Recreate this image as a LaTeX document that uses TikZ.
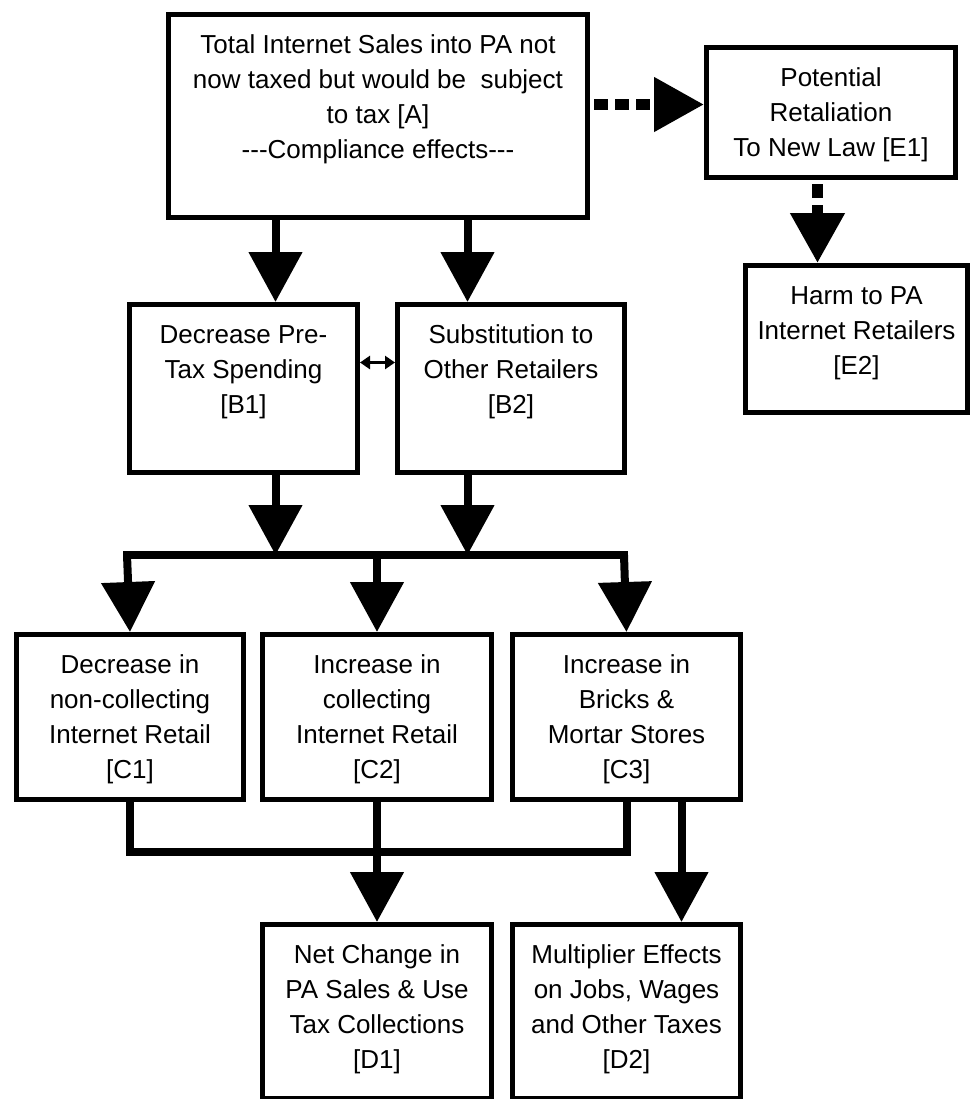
\documentclass[tikz,border=0pt]{standalone}
\usepackage{fontspec}
\setmainfont{Liberation Sans}
\usetikzlibrary{arrows.meta}
\newcommand{\boxtext}[3]{\parbox[c][#2][t]{#1}{\centering\rule{0pt}{19.5pt}#3}}
\begin{document}
\begin{tikzpicture}[x=0.5pt, y=-0.5pt,
  box/.style={draw, line width=2.5pt, inner sep=0pt, anchor=north west, font=\fontsize{13}{17.5}\selectfont},
  bigarrow/.style={line width=4pt, -{Triangle[length=25pt,width=26pt]}},
  feed/.style={line width=4pt, line cap=rect},
  dotarrow/.style={line width=5.5pt, dash pattern=on 7pt off 3.5pt, -{Triangle[length=25pt,width=26pt]}},
  twoway/.style={line width=1.6pt, {Triangle[length=5pt,width=6.5pt]}-{Triangle[length=5pt,width=6.5pt]}}]
\useasboundingbox (0,0) rectangle (970,1099);
\node[box] (a) at (166,12) {\boxtext{209.5pt}{101.5pt}{Total Internet Sales into PA not\\now taxed but would be\ \ subject\\to tax [A]\\-{}-{}-Compliance effects-{}-{}-}};
\node[box] (e1) at (704,45) {\boxtext{124.5pt}{65pt}{Potential\\Retaliation\\To New Law [E1]}};
\node[box] (e2) at (743,263) {\boxtext{111pt}{73.5pt}{Harm to PA\\Internet Retailers\\{}[E2]}};
\node[box] (b1) at (127,302) {\boxtext{114pt}{84pt}{Decrease Pre-\\Tax Spending\\{}[B1]}};
\node[box] (b2) at (395,302) {\boxtext{113.5pt}{84pt}{Substitution to\\Other Retailers\\{}[B2]}};
\node[box] (c1) at (14,632) {\boxtext{113.5pt}{82.5pt}{Decrease in\\non-collecting\\Internet Retail\\{}[C1]}};
\node[box] (c2) at (260,632) {\boxtext{114.5pt}{82.5pt}{Increase in\\collecting\\Internet Retail\\{}[C2]}};
\node[box] (c3) at (510,632) {\boxtext{114pt}{82.5pt}{Increase in\\Bricks \&\\Mortar Stores\\{}[C3]}};
\node[box] (d1) at (260,922) {\boxtext{114.5pt}{87pt}{Net Change in\\PA Sales \& Use\\Tax Collections\\{}[D1]}};
\node[box] (d2) at (510,922) {\boxtext{114pt}{87pt}{Multiplier Effects\\on Jobs, Wages\\and Other Taxes\\{}[D2]}};
\coordinate (busL) at (127,555);
\coordinate (busR) at (624,555);
\coordinate (low) at (0,852);
\draw[dotarrow] ([xshift=2pt,yshift=4pt]e1.west -| a.east) -- ([yshift=4pt]e1.west);
\draw[dotarrow] ([xshift=-6.75pt,yshift=-2pt]e1.south) -- ([xshift=-6.75pt]e1.south |- e2.north);
\draw[bigarrow] ([xshift=16pt]b1.north |- a.south) -- ([xshift=16pt]b1.north);
\draw[bigarrow] ([xshift=-21.75pt]b2.north |- a.south) -- ([xshift=-21.75pt]b2.north);
\draw[twoway] ([yshift=13pt]b1.east) -- ([yshift=13pt]b2.west);
\draw[bigarrow] ([xshift=16pt]b1.south) -- ([xshift=16pt]b1.south |- busL);
\draw[bigarrow] ([xshift=-21.75pt]b2.south) -- ([xshift=-21.75pt]b2.south |- busL);
\draw[feed] (busL) -- (busR);
\draw[bigarrow] (busL) -- (c1.north);
\draw[bigarrow] (c2.north |- busL) -- (c2.north);
\draw[bigarrow] (busR) -- (c3.north);
\draw[feed] (c1.south) -- (c1.south |- low) -- (c3.south |- low) -- (c3.south);
\draw[bigarrow] (c2.south) -- (d1.north);
\draw[bigarrow] ([xshift=27.5pt]c3.south) -- ([xshift=27.5pt]c3.south |- d2.north);
\end{tikzpicture}
\end{document}
